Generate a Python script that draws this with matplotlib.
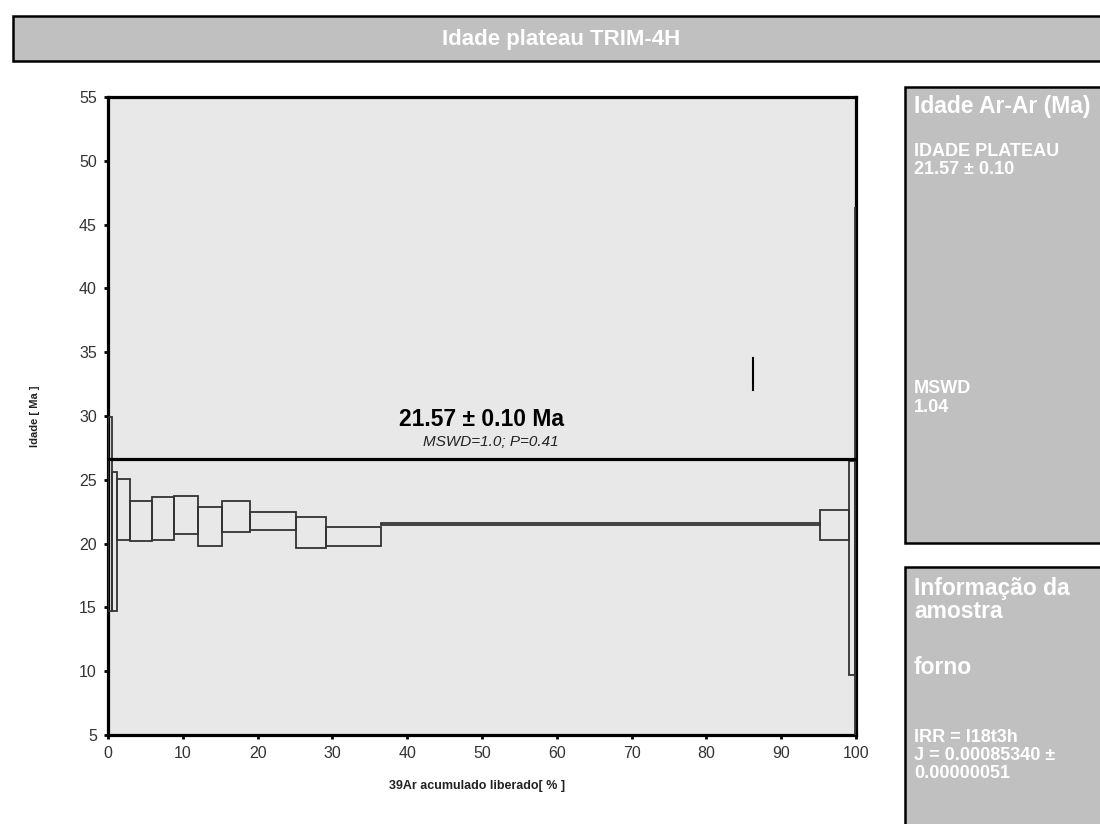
import numpy as np
import matplotlib
matplotlib.use('Agg')
import matplotlib.pyplot as plt
from matplotlib.patches import Rectangle

plt.rcParams['font.family'] = ['Liberation Sans', 'DejaVu Sans']

# cumulative 39Ar released (%) at step edges
cum_edges = [0, 0.55, 1.2, 3.0, 5.9, 8.85, 12.0, 15.3, 19.0, 25.1, 29.1, 36.5, 95.2, 99.0, 99.8, 100]
# age upper / lower bound of each step (Ma)
age_high = [29.95, 25.64, 25.06, 23.31, 23.63, 23.71, 22.84, 23.31, 22.45, 22.06, 21.32, 21.64, 22.61, 26.47, 46.3]
age_low = [14.72, 14.72, 20.28, 20.20, 20.28, 20.75, 19.81, 20.91, 21.07, 19.63, 19.81, 21.46, 20.26, 9.70, 0.0]

plateau_line = 26.65
marker_x = 86.2
marker_age = [32.0, 34.55]

W, H = 1100, 824
fig = plt.figure(figsize=(11, 8.24), dpi=100)

def fx(px):
    return px / W

def fy(py):
    return 1 - py / H

# header bar
fig.patches.append(Rectangle((fx(13), fy(61)), 1.0, (61 - 16) / H, transform=fig.transFigure,
                             facecolor='#c0c0c0', edgecolor='black', linewidth=1.8, zorder=0))
fig.text(fx(561), fy(39), 'Idade plateau TRIM-4H', color='white', fontsize=16, fontweight='bold',
         ha='center', va='center')

# right panels
fig.patches.append(Rectangle((fx(905), fy(543)), 0.3, (543 - 87) / H, transform=fig.transFigure,
                             facecolor='#c0c0c0', edgecolor='black', linewidth=1.8, zorder=0))
fig.patches.append(Rectangle((fx(905), -0.05), 0.3, fy(567) + 0.05, transform=fig.transFigure,
                             facecolor='#c0c0c0', edgecolor='black', linewidth=1.8, zorder=0))

tx = fx(914)
small = 13
big = 16.5
fig.text(tx, fy(107), 'Idade Ar-Ar (Ma)', color='white', fontsize=16.5, fontweight='bold', va='center')
fig.text(tx, fy(152), 'IDADE PLATEAU', color='white', fontsize=small, fontweight='bold', va='center')
fig.text(tx, fy(170), '21.57 ± 0.10', color='white', fontsize=small, fontweight='bold', va='center')
fig.text(tx, fy(389), 'MSWD', color='white', fontsize=small, fontweight='bold', va='center')
fig.text(tx, fy(407), '1.04', color='white', fontsize=small, fontweight='bold', va='center')
fig.text(tx, fy(588), 'Informação da', color='white', fontsize=big, fontweight='bold', va='center')
fig.text(tx, fy(612), 'amostra', color='white', fontsize=big, fontweight='bold', va='center')
fig.text(tx, fy(668), 'forno', color='white', fontsize=big, fontweight='bold', va='center')
fig.text(tx, fy(738), 'IRR = I18t3h', color='white', fontsize=small, fontweight='bold', va='center')
fig.text(tx, fy(756), 'J = 0.00085340 ±', color='white', fontsize=small, fontweight='bold', va='center')
fig.text(tx, fy(774), '0.00000051', color='white', fontsize=small, fontweight='bold', va='center')

# main axes
ax = fig.add_axes([fx(108), fy(735), fx(856) - fx(108), (735 - 97) / H])
ax.set_facecolor('#e8e8e8')
ax.set_xlim(0, 100)
ax.set_ylim(5, 55)
ax.set_xticks(np.arange(0, 101, 10))
ax.set_yticks(np.arange(5, 56, 5))
for s in ax.spines.values():
    s.set_linewidth(2.3)
    s.set_color('black')
ax.tick_params(direction='out', length=3, width=2, labelsize=11.5, labelcolor='#333333', pad=5)

edges = np.array(cum_edges)
lo = np.array(age_low)
hi = np.array(age_high)
ax.bar(edges[:-1], hi - lo, width=np.diff(edges), bottom=lo, align='edge',
       facecolor='none', edgecolor='#333333', linewidth=1.3, zorder=3)

ax.axhline(plateau_line, color='black', linewidth=2.3, zorder=4)
ax.plot([marker_x, marker_x], marker_age, color='black', linewidth=1.5, zorder=4)

ax.text(49.9, 29.7, '21.57 ± 0.10 Ma', fontsize=16.5, fontweight='bold', ha='center', va='center')
ax.text(51.2, 28.0, 'MSWD=1.0; P=0.41', fontsize=11, fontstyle='italic', ha='center', va='center',
        color='#222222')

fig.text(fx(477), fy(786), '39Ar acumulado liberado[ % ]', fontsize=9, fontweight='bold',
         ha='center', va='center', color='#222222')
fig.text(fx(35), fy(416), 'Idade [ Ma ]', fontsize=8, fontweight='bold', rotation=90,
         ha='center', va='center', color='#222222')

fig.savefig('out.png', dpi=100, facecolor='white')
